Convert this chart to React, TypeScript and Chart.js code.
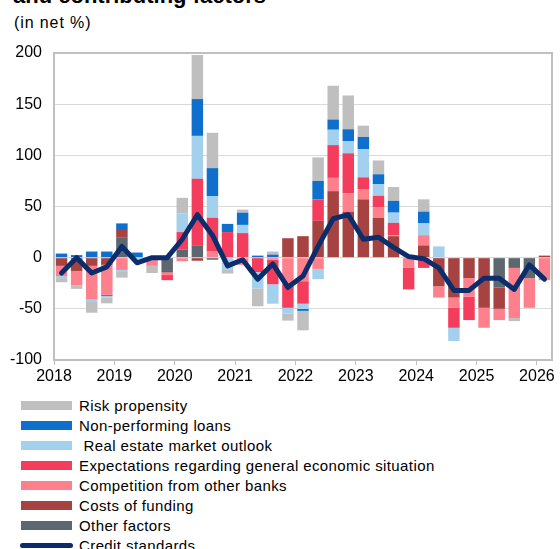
import { useEffect, useRef } from "react";
import { Chart, registerables } from "chart.js";

Chart.register(...registerables);

const FONT = "'Liberation Sans', Arial, Helvetica, sans-serif";

const quarters = [
  "2018Q1", "2018Q2", "2018Q3", "2018Q4",
  "2019Q1", "2019Q2", "2019Q3", "2019Q4",
  "2020Q1", "2020Q2", "2020Q3", "2020Q4",
  "2021Q1", "2021Q2", "2021Q3", "2021Q4",
  "2022Q1", "2022Q2", "2022Q3", "2022Q4",
  "2023Q1", "2023Q2", "2023Q3", "2023Q4",
  "2024Q1", "2024Q2", "2024Q3", "2024Q4",
  "2025Q1", "2025Q2", "2025Q3", "2025Q4",
  "2026Q1",
];

const otherFactors = [0, 0, 0, 0, 20, 0, 0, -13, 8, 12, -2, 0, 0, 0, 0, 0, 0, 0, 0, 0, 0, 0, 0, 0, 0, 0, 0, 0, 0, -29, -10, -20, 0];
const costsOfFunding = [-8, -13, -8, -7, 8, 0, 0, -1.5, 0, -3, 0, 0, 0, 0, 0, 19, 21, 36, 65, 45, 57, 39, 21, 0, 12, -28, -39, -20, -49, -21, 0, 0, 2];
const competition = [-10, -14, -33, -29, -12, 0, -8, -2.5, -3.5, 0, 6, 0, -7, 0, -2, -26, -23, -11, 13, 18, 10, 10, 1, -10, 10, -11, -10, -18, -19.5, -11, -49, -29, -22];
const expectations = [0, 0, 0, -1.5, 0, 0, 0, -5, 17, 65, 33, 25, 24, -14, -24, -23, -22, 21, 32, 39, 11.5, 11.5, 12, -21, -10, 0, -19.5, -23, 0, 0, 0, 0, 0];
const realEstate = [-2, 0, -2.3, -1.6, -2, -2, 0, 0, 18, 42, 21, -12, 8, -16, -19, -5.5, -5, -10, 15, 12, 27.5, 11.5, 10, 0, 11.5, 11, -13, 0, 0, 0, 0, 0, 0];
const nonPerforming = [4, 2.5, 6, 6, 5.5, 5, 0, 0, 0, 36, 27.5, 8, 12, 2, 3, 0, -2, 18, 10, 11.5, 12, 9.5, 11.5, 0, 11.5, 0, 0, 0, 0, 0, 0, 0, 0];
const riskPropensity = [-4, -3.5, -10.5, -5.5, -5.5, 0, -7, 0, 15.5, 43, 34.5, -3.5, 3, -17.5, 3, -7, -19, 23, 33, 33, 11, 13.5, 13.5, 3, 12, 0, 0, 0, 0, 0, -3, 0, 0];
const creditStandards = [-15, 0, -15, -9, 11, -5, 0, 0, 18, 42, 22, -8, -2, -21, -6, -29, -18, 11, 38, 42, 18, 20, 10, 1, -1, -10, -32, -32, -20, -20, -31, -7, -21];

const yTicks = { min: -100, max: 200, step: 50 };
const xYears = { first: 2018, last: 2026 };

// stacking order: first entry sits next to zero
const SERIES = [
  { label: "Other factors", data: otherFactors, color: "#5c6770" },
  { label: "Costs of funding", data: costsOfFunding, color: "#a64341" },
  { label: "Competition from other banks", data: competition, color: "#ff808d" },
  { label: "Expectations regarding general economic situation", data: expectations, color: "#f43c5c" },
  { label: " Real estate market outlook", data: realEstate, color: "#a3d0ec" },
  { label: "Non-performing loans", data: nonPerforming, color: "#0e70cc" },
  { label: "Risk propensity", data: riskPropensity, color: "#bfbfbf" },
];
const LINE = { label: "Credit standards", data: creditStandards, color: "#0b2d6c" };

const quarterX = (q: string) => {
  const y = Number(q.slice(0, 4));
  const n = Number(q.slice(5));
  return y + (n - 1) / 4 + 0.125;
};

const framePlugin = {
  id: "frame",
  beforeDatasetsDraw(chart: any) {
    const { ctx, chartArea } = chart;
    const { left, top, right, bottom } = chartArea;
    ctx.save();
    ctx.strokeStyle = "#c0c0c0";
    ctx.lineWidth = 2;
    ctx.beginPath();
    ctx.moveTo(left, top);
    ctx.lineTo(right, top);
    ctx.lineTo(right, bottom);
    ctx.stroke();
    ctx.restore();
  },
};

export default function App() {
  const ref = useRef<HTMLCanvasElement | null>(null);

  useEffect(() => {
    if (!ref.current) return;
    const chart = new Chart(ref.current, {
      type: "bar",
      data: {
        datasets: [
          ...SERIES.map((s) => ({
            type: "bar" as const,
            label: s.label,
            data: quarters.map((q, i) => ({ x: quarterX(q), y: s.data[i] })),
            backgroundColor: s.color,
            borderWidth: 0,
            stack: "factors",
            order: 1,
            barPercentage: 0.76,
            categoryPercentage: 1,
          })),
          {
            type: "line" as const,
            label: LINE.label,
            data: quarters.map((q, i) => ({ x: quarterX(q), y: LINE.data[i] })),
            borderColor: LINE.color,
            backgroundColor: LINE.color,
            borderWidth: 5,
            pointRadius: 0,
            tension: 0,
            stack: "line",
            order: 0,
            borderJoinStyle: "round",
            borderCapStyle: "round",
          },
        ],
      } as any,
      options: {
        responsive: false,
        animation: false,
        layout: { padding: { left: 0, top: 53, right: 8, bottom: 0 } },
        plugins: {
          legend: { display: false },
          tooltip: { enabled: false },
          title: { display: false },
        },
        scales: {
          x: {
            type: "linear",
            stacked: true,
            min: xYears.first,
            max: xYears.last + 0.25,
            offset: false,
            grid: {
              offset: false,
              drawOnChartArea: false,
              drawTicks: true,
              tickLength: 5,
              color: "#bfbfbf",
            },
            border: { display: true, color: "#bfbfbf", width: 2 },
            ticks: {
              stepSize: 1,
              includeBounds: false,
              autoSkip: false,
              maxRotation: 0,
              padding: 2,
              color: "#000",
              font: { family: FONT, size: 16 },
              callback: (v: any) => String(v),
            },
            afterFit: (s: any) => {
              s.height = 32;
            },
          },
          y: {
            stacked: true,
            min: yTicks.min,
            max: yTicks.max,
            grid: { color: "#d9d9d9", drawTicks: false },
            border: { display: true, color: "#bfbfbf", width: 2 },
            ticks: {
              stepSize: yTicks.step,
              padding: 12,
              color: "#000",
              font: { family: FONT, size: 16 },
            },
            afterFit: (s: any) => {
              s.width = 54;
            },
          },
        },
      } as any,
      plugins: [framePlugin],
    });
    return () => chart.destroy();
  }, []);

  const legendItems = [...SERIES].reverse();

  return (
    <div
      style={{
        position: "absolute",
        left: 0,
        top: 0,
        width: 560,
        height: 549,
        overflow: "hidden",
        background: "#fff",
        fontFamily: FONT,
        color: "#000",
      }}
    >
      <div
        style={{
          position: "absolute",
          left: 13,
          top: -15,
          fontSize: 22,
          lineHeight: "22px",
          fontWeight: "bold",
          whiteSpace: "pre",
        }}
      >
        and contributing factors
      </div>
      <div
        style={{
          position: "absolute",
          left: 14,
          top: 14.5,
          fontSize: 16,
          lineHeight: "16px",
          letterSpacing: "0.9px",
          whiteSpace: "pre",
        }}
      >
        (in net %)
      </div>
      <canvas
        ref={ref}
        width={560}
        height={392}
        style={{ position: "absolute", left: 0, top: 0, width: 560, height: 392 }}
      />
      {legendItems.map((s, k) => (
        <div key={s.label} style={{ position: "absolute", left: 0, top: 396 + 20 * k, height: 20, width: 560 }}>
          <span
            style={{
              position: "absolute",
              left: 21,
              top: 5,
              width: 51,
              height: 9,
              background: s.color,
            }}
          />
          <span
            style={{
              position: "absolute",
              left: 79,
              top: 0,
              fontSize: 15,
              lineHeight: "20px",
              letterSpacing: "0.4px",
              whiteSpace: "pre",
            }}
          >
            {s.label}
          </span>
        </div>
      ))}
      <div style={{ position: "absolute", left: 0, top: 396 + 20 * legendItems.length, height: 20, width: 560 }}>
        <span
          style={{
            position: "absolute",
            left: 20,
            top: 7,
            width: 53,
            height: 5,
            borderRadius: 3,
            background: LINE.color,
          }}
        />
        <span
          style={{
            position: "absolute",
            left: 79,
            top: 0,
            fontSize: 15,
            lineHeight: "20px",
            letterSpacing: "0.4px",
            whiteSpace: "pre",
          }}
        >
          {LINE.label}
        </span>
      </div>
    </div>
  );
}
